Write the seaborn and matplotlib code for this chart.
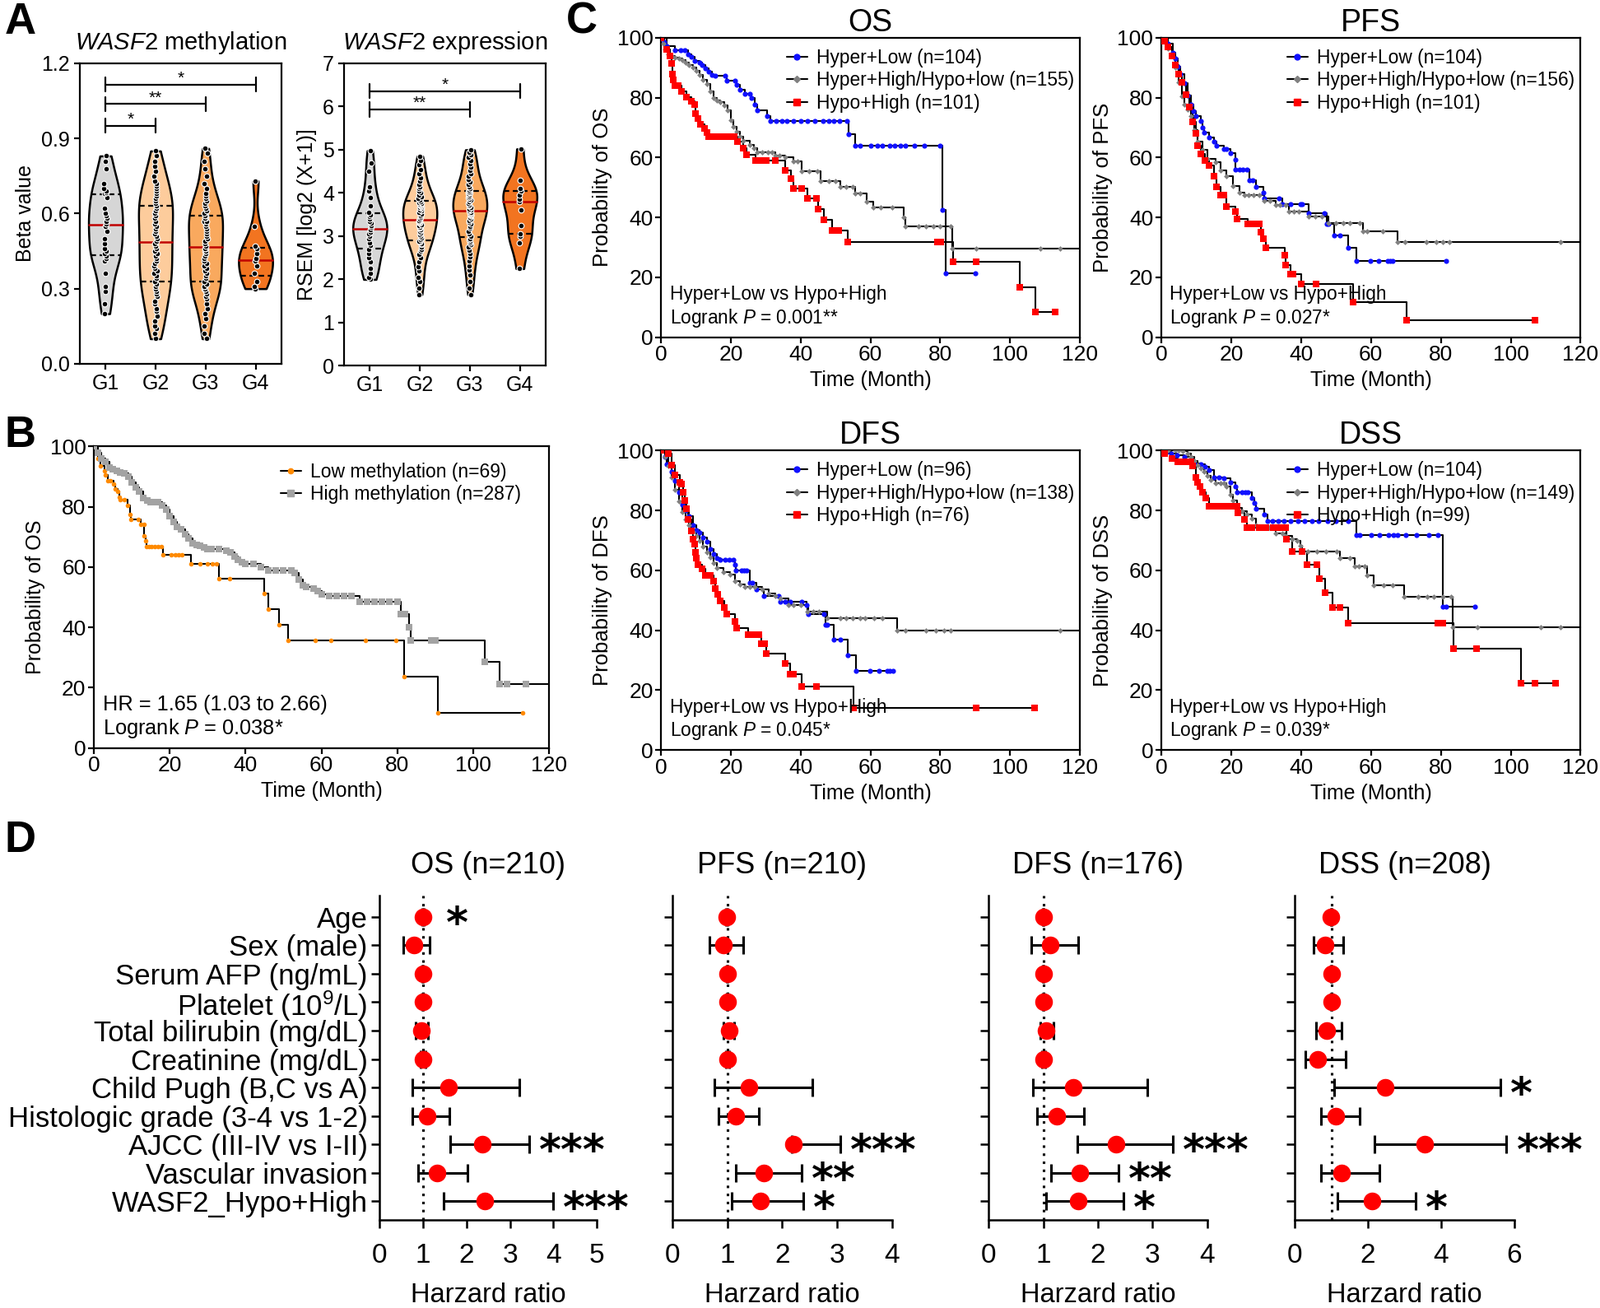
import numpy as np
import pandas as pd
import matplotlib
matplotlib.use("Agg")
import matplotlib.pyplot as plt
from matplotlib.lines import Line2D
import seaborn as sns

# =========================
# A. VIOLINOS (metilação / expressão)
# =========================
grupos = ["G1", "G2", "G3", "G4"]
cores_grupos = {"G1": "#d6d6d6", "G2": "#fdcc9c", "G3": "#f9a95e", "G4": "#f27420"}

met_g1 = [0.20, 0.24, 0.29, 0.31, 0.36, 0.41, 0.42, 0.43, 0.44, 0.45,
          0.46, 0.48, 0.50, 0.53, 0.55, 0.56, 0.57, 0.58, 0.59, 0.60,
          0.62, 0.665, 0.68, 0.685, 0.69, 0.70, 0.72, 0.78, 0.81, 0.83]
met_g2 = [0.10, 0.12, 0.14, 0.15, 0.17, 0.19, 0.21, 0.22, 0.24, 0.25, 0.27, 0.28, 0.29, 0.30, 0.31, 0.32,
          0.33, 0.34, 0.35, 0.36, 0.37, 0.38, 0.39, 0.40, 0.41, 0.42, 0.43, 0.44, 0.45, 0.46, 0.47, 0.48,
          0.49, 0.50, 0.51, 0.52, 0.53, 0.54, 0.55, 0.56, 0.57, 0.58, 0.59, 0.60, 0.61, 0.62, 0.63, 0.63,
          0.64, 0.65, 0.66, 0.67, 0.68, 0.69, 0.70, 0.71, 0.72, 0.73, 0.75, 0.77, 0.79, 0.81, 0.83, 0.85]
met_g3 = [0.10, 0.12, 0.15, 0.18, 0.20, 0.22, 0.24, 0.26, 0.27, 0.28, 0.29, 0.30, 0.30, 0.31, 0.31, 0.32,
          0.33, 0.34, 0.35, 0.36, 0.37, 0.38, 0.39, 0.40, 0.41, 0.42, 0.43, 0.44, 0.45, 0.45, 0.46, 0.46,
          0.47, 0.48, 0.49, 0.50, 0.51, 0.52, 0.53, 0.54, 0.55, 0.56, 0.57, 0.57, 0.58, 0.58, 0.59, 0.59,
          0.60, 0.61, 0.62, 0.63, 0.64, 0.65, 0.66, 0.67, 0.68, 0.70, 0.72, 0.75, 0.78, 0.81, 0.84, 0.86]
met_g4 = [0.30, 0.31, 0.33, 0.36, 0.39, 0.41, 0.42, 0.44, 0.46, 0.47, 0.55, 0.73]

exp_g1 = [2.00, 2.05, 2.15, 2.25, 2.40, 2.50, 2.60, 2.70, 2.78, 2.85,
          2.95, 3.00, 3.05, 3.10, 3.15, 3.20, 3.25, 3.30, 3.35, 3.40,
          3.45, 3.50, 3.55, 3.70, 3.90, 4.05, 4.15, 4.50, 4.70, 4.98]
exp_g2 = [1.65, 1.80, 1.95, 2.05, 2.20, 2.30, 2.40, 2.50, 2.58, 2.65, 2.70, 2.75, 2.80, 2.83, 2.86, 2.88,
          2.92, 2.96, 3.00, 3.04, 3.08, 3.12, 3.15, 3.18, 3.21, 3.24, 3.27, 3.30, 3.32, 3.34, 3.36, 3.37,
          3.40, 3.44, 3.48, 3.52, 3.55, 3.58, 3.61, 3.64, 3.66, 3.68, 3.70, 3.72, 3.74, 3.76, 3.78, 3.80,
          3.84, 3.88, 3.92, 3.96, 4.00, 4.05, 4.10, 4.15, 4.20, 4.28, 4.36, 4.45, 4.55, 4.65, 4.75, 4.85]
exp_g3 = [1.65, 1.80, 1.95, 2.10, 2.22, 2.32, 2.42, 2.52, 2.60, 2.68, 2.75, 2.80, 2.85, 2.89, 2.92, 2.95,
          3.00, 3.06, 3.12, 3.18, 3.23, 3.28, 3.32, 3.36, 3.40, 3.44, 3.47, 3.50, 3.52, 3.54, 3.56, 3.58,
          3.60, 3.63, 3.66, 3.70, 3.73, 3.76, 3.80, 3.83, 3.86, 3.89, 3.92, 3.95, 3.98, 4.00, 4.02, 4.03,
          4.06, 4.10, 4.15, 4.20, 4.26, 4.32, 4.38, 4.45, 4.52, 4.60, 4.68, 4.75, 4.82, 4.88, 4.95, 5.00]
exp_g4 = [2.25, 2.85, 3.00, 3.05, 3.25, 3.60, 3.80, 3.85, 3.95, 4.05, 4.10, 4.30, 5.02]

# comparações: (grupo a, grupo b, altura, rótulo)
sig_met = [("G1", "G2", 0.95, "*"), ("G1", "G3", 1.038, "**"), ("G1", "G4", 1.115, "*")]
sig_exp = [("G1", "G3", 5.93, "**"), ("G1", "G4", 6.36, "*")]

# =========================
# B. KM metilação (tempo, sobrevida)
# =========================
b_low = [(0, 100), (1.0, 96), (1.7, 93.5), (2.7, 92), (3.0, 90.7), (3.7, 88.8), (4.4, 88.8), (5.2, 87.5),
         (5.7, 86), (6.2, 85), (6.6, 83.3), (7.0, 82.4), (8.0, 82.4), (8.8, 80.6), (9.5, 77.5), (9.8, 75.8),
         (11.8, 75.8), (12.3, 74.2), (13.3, 74.2), (13.3, 70.5), (13.6, 68.7), (13.8, 66.7), (14.5, 66.7),
         (15.2, 66.7), (16.0, 66.7), (16.8, 66.7), (17.7, 66.7), (18.2, 64.1), (20.4, 64.1), (21.5, 64.1),
         (22.3, 64.1), (23.1, 64.1), (25.5, 61), (28.0, 61), (30.0, 61), (31.3, 61), (32.4, 61), (32.9, 56.2),
         (35.8, 56.2), (45.0, 51.3), (45.9, 46.2), (48.8, 41), (51.3, 35.7), (58.3, 35.7), (62.4, 35.7),
         (71.7, 35.7), (79.6, 35.7), (81.7, 23.6), (90.7, 11.7), (113.0, 11.7)]
b_high = [(0, 100), (1, 98), (2, 96), (3, 95), (4, 93), (5, 92.5), (6, 92), (7, 91.5), (8, 91), (9, 90),
          (10, 88), (11, 86.5), (12, 85), (13, 83), (14, 82), (15, 81.5), (16, 81.5), (17, 81.5), (18, 80.5),
          (19, 79), (20, 77), (21, 75), (22, 73.5), (23, 72.5), (24, 71), (25, 69.5), (26, 68), (27, 67.5),
          (28, 67), (29, 66.5), (30, 66), (31, 66), (33, 66), (35, 65.5), (36, 65), (37, 63.5), (38, 62.5),
          (39, 61.5), (40, 61), (42, 61), (44, 60), (46, 59), (48, 59), (50, 59), (52, 59), (53, 58), (54, 56),
          (55, 54), (56, 53.5), (58, 53), (59, 52), (60, 51), (62, 50.5), (64, 50.5), (66, 50.5), (68, 50.5),
          (70, 48.5), (72, 48.5), (74, 48.5), (76, 48.5), (78, 48.5), (80, 48.5), (81, 44.5), (82, 44.5),
          (83, 40), (83.5, 35.7), (89, 35.7), (90, 35.7), (103, 28.5), (107, 21.3), (109, 21.3), (114, 21.3),
          (121, 21.3)]

# =========================
# C. KM combinados (Hyper+Low / intermediário / Hypo+High)
# =========================
os_hl = [(0, 100), (0.9, 98.6), (1.6, 97.3), (3.9, 95.9), (5.6, 95.9), (6.7, 95.9), (7.6, 94.5), (8.6, 93.6),
         (9.5, 92.2), (10.9, 91.8), (11.8, 90.9), (12.7, 89.9), (13.7, 88.6), (14.6, 87.5), (15.5, 87.2),
         (18.3, 87.2), (18.8, 85.8), (21.1, 85.8), (21.6, 84.4), (22.5, 82.6), (23.9, 81.2), (25.3, 81.2),
         (25.8, 79.9), (26.7, 77.6), (27.6, 75.8), (30.4, 73.9), (31.3, 72.1), (33, 72.1), (34.5, 72.1),
         (36, 72.1), (38, 72.1), (40, 72.1), (42, 72.1), (44, 72.1), (46.5, 72.1), (48, 72.1), (49.5, 72.1),
         (51, 72.1), (53.2, 72.1), (53.6, 67.8), (55.5, 63.9), (57, 63.9), (60, 63.9), (62, 63.9), (63.5, 63.9),
         (65.5, 63.9), (67, 63.9), (68.5, 63.9), (70, 63.9), (72.5, 63.9), (75.5, 63.9), (80, 63.9),
         (80.6, 42.5), (81.6, 21.3), (90, 21.3)]
os_mid = [(0, 100), (0.5, 98), (1, 96), (2, 94.5), (3, 94), (4, 93.5), (5, 93), (6, 92.5), (7, 91.8), (8, 91),
          (9, 90), (10, 89), (11, 87.5), (12, 86), (13, 84.5), (14, 82), (15, 80), (16, 79), (17, 78.5),
          (18, 77.5), (19, 75.8), (20, 72.5), (20.6, 70.3), (21.5, 68.5), (22.5, 66.9), (23.5, 65.5),
          (25.3, 64.3), (26.5, 63), (27.6, 61.8), (29, 61.8), (30.5, 61.8), (31.8, 61.8), (32.7, 60.7),
          (34, 60.7), (35.5, 60), (37.9, 58.8), (39, 58.8), (40.2, 55.4), (42.5, 55.4), (44.8, 55.4),
          (45.8, 52.2), (48, 52.2), (50, 52.2), (51.4, 50.1), (53, 50.1), (55, 50.1), (55.5, 48), (57, 48),
          (58.8, 45.4), (60.7, 43.3), (63, 43.3), (66.2, 43.3), (69.5, 40.1), (70, 36.9), (73.7, 36.9),
          (76, 36.9), (78, 36.9), (80, 36.9), (83, 36.9), (83.4, 29.6), (90.4, 29.6), (108.7, 29.6),
          (114.4, 29.6), (121, 29.6)]
os_hh = [(0, 100), (1.5, 96), (2.5, 94), (3, 91.5), (3.2, 88), (3.4, 86), (4, 84), (4.8, 84), (5.8, 82),
         (7.2, 80.3), (8.6, 78.7), (9.5, 77.6), (9.7, 74.8), (10.4, 73), (11.3, 71.2), (12.3, 69.8),
         (13.2, 68.4), (13.7, 66.9), (15, 66.9), (16.5, 66.9), (18, 66.9), (19.5, 66.9), (21, 66.9),
         (21.8, 65.2), (23.4, 63), (24.4, 61), (27, 59), (28.5, 59), (30, 59), (32.7, 59), (35.5, 55.6),
         (37.2, 52.9), (37.9, 49.7), (40.2, 49.7), (41.9, 46.5), (44.4, 46.5), (45, 42.8), (46.7, 39.2),
         (49, 35.7), (50.9, 35.7), (53.4, 31.7), (79.3, 31.7), (80.2, 31.7), (83.6, 25.3), (90.4, 25.3),
         (102.8, 16.8), (107.2, 8.3), (112.9, 8.3)]

pfs_hl = [(0, 100), (0.9, 100), (2, 98), (3.3, 95), (4, 93), (4.7, 90.4), (5.5, 88), (6.6, 84.9), (7.5, 80.8),
          (8.4, 77.6), (9.1, 75.5), (9.8, 73.9), (11.2, 72.1), (11.8, 70), (12.2, 68.4), (13.6, 66.6),
          (15, 65.2), (15.9, 63.9), (17.8, 62.8), (18.5, 62.8), (19.7, 61.6), (21.1, 59.3), (21.3, 56.1),
          (22.5, 56.1), (23.4, 56.1), (24.4, 56.1), (25.3, 52.4), (26.2, 52.4), (27.2, 50.3), (29.1, 48.3),
          (29.5, 46.5), (33.7, 46.5), (34.7, 44.4), (37, 44.4), (39.8, 44.4), (40.3, 44.4), (42.2, 41.4),
          (46.6, 41.4), (47.3, 37.8), (47.8, 37.8), (49.4, 34), (51.1, 34), (53.4, 29.8), (55.9, 25.4),
          (59.8, 25.4), (62.3, 25.4), (64.7, 25.4), (65.4, 25.4), (66.1, 25.4), (81.5, 25.4)]
pfs_mid = [(0, 100), (1, 98.5), (2, 96.5), (3, 94), (4, 90), (5, 85), (6, 80.5), (6.6, 77.6), (7.5, 76),
           (8.4, 73.9), (9.4, 69.3), (10.3, 65.2), (11.7, 62.5), (13.1, 59.7), (15.5, 58.4), (16.9, 55.6),
           (18.7, 53.8), (20.6, 50.6), (22.5, 48.3), (23.9, 47.4), (25, 47.4), (26.5, 47.4), (28.1, 47.4),
           (29.5, 45.5), (31, 45.5), (32.8, 44.2), (34, 44.2), (35.6, 44.2), (36.6, 42.1), (38, 42.1),
           (39.4, 42.1), (42.2, 40.3), (44, 40.3), (45.9, 40.3), (47.8, 38.2), (50, 38.2), (52, 38.2),
           (54, 38.2), (56.7, 38.2), (57.6, 35.5), (59, 35.5), (63.3, 35.5), (67.5, 31.8), (69.8, 31.8),
           (75.9, 31.8), (78.7, 31.8), (80.5, 31.8), (82.5, 31.8), (114.3, 31.8), (121, 31.8)]
pfs_hh = [(0, 100), (1, 99), (2, 97), (3, 94), (4, 91), (5, 88), (6, 85), (7, 81), (8, 77), (9, 72), (9.8, 68),
          (10.3, 63.9), (11.2, 61.1), (12.5, 59), (13.6, 57.5), (15, 53.8), (15.9, 50.1), (16.9, 47.4),
          (17.8, 47.4), (18.7, 43.7), (21.1, 41.9), (21.6, 39.6), (24.8, 37.8), (26.5, 37.8), (28.1, 37.8),
          (28.6, 35), (29.1, 32.8), (30, 30), (35.4, 27.3), (35.6, 24), (37, 21.1), (37.8, 21.1), (40.1, 17.7),
          (44.2, 17.7), (54.8, 11.7), (70.1, 5.8), (107, 5.8)]

dfs_hl = [(0, 100), (1, 98), (1.6, 95.5), (3, 93), (4, 90), (5, 86), (6, 82), (7, 80), (8, 78), (9, 75),
          (10, 73.5), (11, 72.5), (12, 71), (13, 69.5), (14, 67), (15, 65.5), (16, 64), (17, 63.6),
          (18.3, 63.6), (19.5, 63.6), (20.7, 63.6), (21.1, 61.8), (21.4, 60), (23, 60), (23.7, 60), (24.4, 60),
          (25.3, 55.9), (26.2, 55.9), (27.2, 53.6), (29.5, 51.5), (33.7, 51.5), (34.1, 49.5), (35.5, 49.5),
          (37, 49.5), (40.2, 49.5), (41.6, 48.5), (42.2, 45.5), (46.7, 45.5), (47.2, 41.7), (47.6, 41.7),
          (49.5, 36.8), (51.3, 36.8), (53.5, 31.6), (55.8, 26.3), (59.9, 26.3), (62.5, 26.3), (64.8, 26.3),
          (65.6, 26.3), (66.4, 26.3)]
dfs_mid = [(0, 100), (1, 98), (2, 95), (3, 91), (4, 87), (5, 83), (6, 79.5), (7, 77), (8, 75), (9, 73),
           (10, 71.5), (11, 70), (12, 68), (13, 66), (14, 64.5), (15, 62.5), (16, 60.9), (17.9, 59.5),
           (19.7, 58.6), (21.1, 56.3), (22.5, 55.4), (23.9, 54.4), (25.3, 54.4), (26.7, 54.4), (29, 53.6),
           (30.9, 52.2), (32.7, 51.5), (34.1, 50.5), (36.5, 48.5), (38, 48.5), (40, 48.5), (42, 46.2),
           (43.5, 46.2), (45.3, 46.2), (47.6, 44), (51.3, 44), (53, 44), (55, 44), (57, 44), (58.5, 44),
           (61, 44), (63.4, 44), (67.6, 39.8), (69.9, 39.8), (76, 39.8), (78.8, 39.8), (81, 39.8), (83, 39.8),
           (114.4, 39.8), (121, 39.8)]
dfs_hh = [(0, 100), (2, 99), (3, 95.2), (3.9, 92), (5.3, 89.3), (5.8, 88.8), (6.2, 86), (6.7, 83.3),
          (7.2, 80.6), (7.6, 76.9), (8.6, 73.3), (9, 70.5), (9.5, 68.7), (9.7, 66), (10, 64.1), (10.4, 61.8),
          (11.8, 60.4), (12.7, 58.3), (14, 58.3), (15, 56.3), (15.5, 54), (16.2, 52), (16.9, 49.9), (18, 47.6),
          (18.8, 45.5), (21.1, 43), (21.6, 40.7), (24.8, 38.5), (26.7, 38.5), (28.1, 38.5), (28.6, 35.6),
          (29.7, 35.6), (30, 32.2), (35.5, 28.9), (36.9, 25.4), (37.9, 25.4), (40.2, 21.1), (44.4, 21.1),
          (55.1, 14.1), (90.2, 14.1), (107, 14.1)]

dss_hl = [(0, 100), (0.2, 99.8), (1.5, 99.5), (2.8, 98.9), (4.5, 98.5), (6.6, 98), (8.4, 97), (9.4, 95.7),
          (11.2, 95.5), (12.5, 94.5), (13.6, 93.4), (15, 91.1), (16.5, 91.1), (17.8, 90.7), (19.7, 89.3),
          (21.1, 87.9), (21.6, 86.1), (23, 86.1), (24, 86.1), (24.8, 86.1), (25.8, 84.2), (26.7, 82.6),
          (27.2, 80.6), (29.5, 78.6), (30.5, 76.5), (31.9, 76.5), (33.5, 76.5), (35, 76.5), (37, 76.5),
          (39, 76.5), (41, 76.5), (43, 76.5), (45, 76.5), (47.5, 76.5), (50, 76.5), (53.4, 76.5), (55.8, 71.9),
          (56.7, 71.9), (60, 71.9), (62.5, 71.9), (65, 71.9), (66.5, 71.9), (67.5, 71.9), (70, 71.9),
          (73, 71.9), (76.5, 71.9), (79.2, 71.9), (80.6, 47.9), (81.5, 47.9), (89.8, 47.9)]
dss_mid = [(0, 100), (2, 100), (4, 100), (5, 100), (6.1, 99.8), (7.5, 99), (8.4, 98), (9.4, 96.5),
           (10.3, 95.2), (11.2, 94), (12.2, 93), (13.1, 91.5), (14.1, 90.2), (15.5, 89), (17, 89), (17.8, 89),
           (18.7, 87.9), (19.7, 85.2), (20.6, 83.3), (21.6, 81), (23, 79.7), (24.4, 78.6), (25.8, 77.4),
           (27.2, 75.1), (29.5, 74.2), (30.9, 74.2), (32.8, 72.3), (34.7, 72.3), (35.6, 71.4), (37.5, 70.5),
           (38.9, 70), (39.8, 68.2), (40.3, 66.4), (42, 66.4), (44.5, 66.4), (47, 66.4), (50.1, 66.4),
           (51.1, 64.1), (53.9, 64.1), (55.3, 61.4), (56.5, 61.4), (58.1, 61.4), (58.9, 58.4), (60.7, 55.1),
           (63.7, 55.1), (66.1, 55.1), (69.5, 51.1), (73.6, 51.1), (76, 51.1), (78, 51.1), (80.5, 51.1),
           (82.9, 51.1), (83.4, 40.9), (90.4, 40.9), (108.7, 40.9), (114.3, 40.9), (121, 40.9)]
dss_hh = [(0, 100), (0.9, 98.9), (3, 97.5), (4.7, 96.3), (6, 96.3), (7.5, 96.3), (8.4, 96.3), (8.9, 94.8),
          (9.8, 91.1), (10.3, 89.3), (11.1, 87.9), (11.7, 86.1), (12.7, 84.2), (13.6, 81.5), (14.5, 81.5),
          (16, 81.5), (17.5, 81.5), (19, 81.5), (20.5, 81.5), (21.6, 81.5), (21.8, 79.2), (23.7, 76.9),
          (24.6, 74.4), (26, 74.4), (28, 74.4), (30, 74.4), (32, 74.4), (33.8, 74.4), (35.6, 74.4),
          (35.8, 70.5), (37.5, 66.4), (40.3, 66.4), (41.7, 62), (44.5, 62), (45.2, 57.2), (46.9, 52.5),
          (48.9, 47.6), (51.1, 47.6), (53.4, 42.3), (79.2, 42.3), (80.6, 42.3), (83.6, 33.9), (90.2, 33.9),
          (102.9, 22.4), (107, 22.4), (112.9, 22.4)]

n_os = [104, 155, 101]
n_pfs = [104, 156, 101]
n_dfs = [96, 138, 76]
n_dss = [104, 149, 99]
p_os, p_pfs, p_dfs, p_dss = "0.001**", "0.027*", "0.045*", "0.039*"

# =========================
# D. FOREST (HR, IC inferior, IC superior)
# =========================
fatores = ["Age", "Sex (male)", "Serum AFP (ng/mL)", r"Platelet (10$^9$/L)", "Total bilirubin (mg/dL)",
           "Creatinine (mg/dL)", "Child Pugh (B,C vs A)", "Histologic grade (3-4 vs 1-2)",
           "AJCC (III-IV vs I-II)", "Vascular invasion", "WASF2_Hypo+High"]

hr_os = [1.00, 0.80, 1.00, 1.00, 0.96, 1.00, 1.59, 1.10, 2.37, 1.33, 2.42]
lo_os = [0.99, 0.55, 0.99, 0.99, 0.83, 0.95, 0.76, 0.76, 1.63, 0.88, 1.47]
hi_os = [1.02, 1.15, 1.01, 1.01, 1.12, 1.05, 3.22, 1.60, 3.45, 2.02, 4.00]
st_os = ["*", "", "", "", "", "", "", "", "***", "", "***"]

hr_pfs = [0.99, 0.93, 1.00, 1.00, 1.03, 1.00, 1.39, 1.16, 2.20, 1.66, 1.61]
lo_pfs = [0.98, 0.67, 0.99, 0.99, 0.93, 0.97, 0.76, 0.84, 2.17, 1.16, 1.08]
hi_pfs = [1.01, 1.29, 1.01, 1.01, 1.13, 1.03, 2.55, 1.58, 3.06, 2.35, 2.38]
st_pfs = ["", "", "", "", "", "", "", "", "***", "**", "*"]

hr_dfs = [1.00, 1.13, 1.00, 1.00, 1.05, 1.00, 1.54, 1.25, 2.33, 1.66, 1.63]
lo_dfs = [0.99, 0.78, 0.99, 0.99, 0.94, 0.97, 0.81, 0.88, 1.62, 1.14, 1.05]
hi_dfs = [1.01, 1.63, 1.01, 1.01, 1.18, 1.03, 2.90, 1.75, 3.37, 2.38, 2.46]
st_dfs = ["", "", "", "", "", "", "", "", "***", "**", "*"]

hr_dss = [0.99, 0.82, 1.00, 1.00, 0.88, 0.62, 2.46, 1.13, 3.56, 1.27, 2.11]
lo_dss = [0.98, 0.51, 0.99, 0.99, 0.59, 0.28, 1.08, 0.71, 2.18, 0.71, 1.16]
hi_dss = [1.01, 1.32, 1.01, 1.01, 1.27, 1.38, 5.63, 1.78, 5.79, 2.32, 3.30]
st_dss = ["", "", "", "", "", "", "*", "", "***", "", "*"]

# =========================
# ESTILO
# =========================
sns.set_theme(style="ticks")
plt.rcParams["font.family"] = ["Liberation Sans", "DejaVu Sans"]
plt.rcParams["mathtext.fontset"] = "custom"
plt.rcParams["mathtext.rm"] = "Liberation Sans"
plt.rcParams["mathtext.it"] = "Liberation Sans:italic"
plt.rcParams["mathtext.bf"] = "Liberation Sans:bold"
plt.rcParams["axes.linewidth"] = 1.6
plt.rcParams["axes.edgecolor"] = "black"
plt.rcParams["xtick.color"] = "black"
plt.rcParams["ytick.color"] = "black"
plt.rcParams["xtick.major.width"] = 1.6
plt.rcParams["ytick.major.width"] = 1.6
plt.rcParams["xtick.major.size"] = 5
plt.rcParams["ytick.major.size"] = 5
plt.rcParams["text.color"] = "black"
plt.rcParams["axes.labelcolor"] = "black"

AZUL, CINZA, VERMELHO = "#1010ff", "#808080", "#ff0000"


def violino(ax, valores, titulo, ylabel, ylim, yticks, fmt, sig, tick_h):
    df = pd.DataFrame({
        "grupo": np.repeat(grupos, [len(v) for v in valores]),
        "valor": np.concatenate(valores),
    })
    sns.violinplot(data=df, x="grupo", y="valor", hue="grupo", order=grupos, hue_order=grupos,
                   palette=cores_grupos, legend=False, cut=0, density_norm="width", width=0.68,
                   bw_adjust=0.8, inner=None, linewidth=1.8, linecolor="black", saturation=1, ax=ax)

    # linhas de quartis e mediana dentro de cada violino
    for poly in list(ax.collections):
        v = poly.get_paths()[0].vertices
        pos = int(round(np.median(v[:, 0])))
        vals = valores[pos]
        dire = v[v[:, 0] > pos + 1e-6]
        ordem = np.argsort(dire[:, 1])
        ys, xs = dire[ordem, 1], dire[ordem, 0]
        q1, med, q3 = np.percentile(vals, [25, 50, 75])
        for q in (q1, q3):
            w = np.interp(q, ys, xs) - pos
            ax.plot([pos - w, pos + w], [q, q], color="black", lw=1.6, ls=(0, (3, 2)), zorder=2)
        w = np.interp(med, ys, xs) - pos
        ax.plot([pos - w, pos + w], [med, med], color="#c00000", lw=1.8, zorder=2)

    sns.stripplot(data=df, x="grupo", y="valor", order=grupos, color="black", size=4.8, jitter=0.03,
                  edgecolor="white", linewidth=0.8, ax=ax, zorder=3)

    for a, b, h, rot in sig:
        xa, xb = grupos.index(a), grupos.index(b)
        ax.plot([xa, xb], [h, h], color="black", lw=1.6)
        ax.plot([xa, xa], [h - tick_h, h + tick_h], color="black", lw=1.6)
        ax.plot([xb, xb], [h - tick_h, h + tick_h], color="black", lw=1.6)
        ax.text((xa + xb) / 2, h + tick_h * 0.2, rot, ha="center", va="baseline", fontsize=15)

    ax.set_xlim(-0.52, 3.52)
    ax.set_ylim(*ylim)
    ax.set_yticks(yticks)
    ax.set_yticklabels([fmt.format(t) for t in yticks])
    ax.set_xlabel("")
    ax.set_ylabel(ylabel, fontsize=18, labelpad=5)
    ax.set_title(titulo, fontsize=21, pad=12)
    ax.tick_params(labelsize=18)


def painel_km(ax, curvas, cores, marcadores, tamanhos, rotulos, ylabel, textos, leg_anchor,
              fs_leg, fs_txt, fs_tick, fs_lab, fs_ylab):
    handles = []
    for pontos, cor, marc, tam, rot in zip(curvas, cores, marcadores, tamanhos, rotulos):
        t = [p[0] for p in pontos]
        s = [p[1] for p in pontos]
        sns.lineplot(x=t, y=s, ax=ax, color="black", linewidth=1.5, drawstyle="steps-post",
                     estimator=None, sort=False, legend=False, zorder=2)
        sns.scatterplot(x=t, y=s, ax=ax, color=cor, marker=marc, s=tam, linewidth=0,
                        legend=False, zorder=3)
        handles.append(Line2D([0], [0], color="black", lw=1.5, marker=marc, markersize=np.sqrt(tam) + 0.5,
                              markerfacecolor=cor, markeredgecolor=cor, label=rot))
    ax.set_xlim(0, 120)
    ax.set_ylim(0, 100)
    ax.set_xticks(range(0, 121, 20))
    ax.set_yticks(range(0, 101, 20))
    ax.tick_params(labelsize=fs_tick, pad=2)
    ax.set_xlabel("Time (Month)", fontsize=fs_lab, labelpad=5)
    ax.set_ylabel(ylabel, fontsize=fs_ylab, labelpad=4)
    ax.legend(handles=handles, loc="upper left", bbox_to_anchor=leg_anchor, frameon=False,
              fontsize=fs_leg, handlelength=1.1, handletextpad=0.5, labelspacing=0.2,
              borderpad=0, borderaxespad=0)
    ax.text(0.02, 0.143, textos[0], transform=ax.transAxes, fontsize=fs_txt, va="center", ha="left")
    ax.text(0.02, 0.065, textos[1], transform=ax.transAxes, fontsize=fs_txt, va="center", ha="left")


def painel_forest(ax, titulo, hr, lo, hi, estrelas, xmax, xticks, com_rotulos):
    y = np.arange(len(fatores))
    hr, lo, hi = np.array(hr), np.array(lo), np.array(hi)
    ax.axvline(1, color="black", linestyle=(0, (1, 2.2)), linewidth=2.2, zorder=1)
    ax.errorbar(hr, y, xerr=[hr - lo, hi - hr], fmt="none", ecolor="black", elinewidth=2.2,
                capsize=8, capthick=2.2, zorder=2)
    sns.scatterplot(x=hr, y=y, ax=ax, color=VERMELHO, s=240, linewidth=0, legend=False, zorder=3)
    for yi, h, r, est in zip(y, hi, hr, estrelas):
        if est:
            ax.text(max(h, r + 0.3) + 0.045 * xmax, yi + 0.70, est, fontsize=37, fontweight="bold",
                    family="DejaVu Sans", ha="left", va="baseline")
    ax.set_xlim(0, xmax)
    ax.set_ylim(len(fatores) - 1 + 0.66, -0.76)
    ax.set_xticks(xticks)
    ax.set_yticks(y)
    ax.set_yticklabels(fatores if com_rotulos else [])
    ax.tick_params(axis="y", labelsize=25, length=7, width=1.8)
    ax.tick_params(axis="x", labelsize=24, length=7, width=1.8, pad=13)
    ax.set_title(titulo, fontsize=26, pad=19)
    ax.set_xlabel("Harzard ratio", fontsize=23.5, labelpad=12)
    sns.despine(ax=ax)
    for sp in ("left", "bottom"):
        ax.spines[sp].set_linewidth(1.8)


fig = plt.figure(figsize=(19.44, 15.89), dpi=100)

# ---- A ----
ax_a1 = fig.add_axes([0.0497, 0.7219, 0.1263, 0.2297])
violino(ax_a1, [met_g1, met_g2, met_g3, met_g4], r"$\mathit{WASF}$2 methylation", "Beta value",
        (0, 1.2), [0, 0.3, 0.6, 0.9, 1.2], "{:.1f}", sig_met, 0.028)
ax_a2 = fig.add_axes([0.2149, 0.7203, 0.1263, 0.2313])
violino(ax_a2, [exp_g1, exp_g2, exp_g3, exp_g4], r"$\mathit{WASF}$2 expression", "RSEM [log2 (X+1)]",
        (0, 7), [0, 1, 2, 3, 4, 5, 6, 7], "{:.0f}", sig_exp, 0.17)

# ---- B ----
ax_b = fig.add_axes([0.0587, 0.4281, 0.2844, 0.2305])
painel_km(ax_b, [b_low, b_high], ["#ff8a00", "#a3a3a3"], ["o", "s"], [16, 26],
          ["Low methylation (n=69)", "High methylation (n=287)"], "Probability of OS",
          ["HR = 1.65 (1.03 to 2.66)", r"Logrank $\mathit{P}$ = 0.038*"], (0.41, 0.948),
          16.5, 18.3, 19, 18, 18)

# ---- C ----
cores_c = [AZUL, CINZA, VERMELHO]
marc_c = ["o", "D", "s"]
tam_c = [20, 12, 26]
paineis_c = [
    ([0.4133, 0.7422, 0.2615, 0.2289], "OS", [os_hl, os_mid, os_hh], n_os, p_os),
    ([0.7258, 0.7422, 0.2621, 0.2289], "PFS", [pfs_hl, pfs_mid, pfs_hh], n_pfs, p_pfs),
    ([0.4133, 0.4266, 0.2615, 0.2289], "DFS", [dfs_hl, dfs_mid, dfs_hh], n_dfs, p_dfs),
    ([0.7258, 0.4266, 0.2621, 0.2289], "DSS", [dss_hl, dss_mid, dss_hh], n_dss, p_dss),
]
for rect, nome, curvas, ns, p in paineis_c:
    ax = fig.add_axes(rect)
    rotulos = [f"Hyper+Low (n={ns[0]})", f"Hyper+High/Hypo+low (n={ns[1]})", f"Hypo+High (n={ns[2]})"]
    painel_km(ax, curvas, cores_c, marc_c, tam_c, rotulos, f"Probability of {nome}",
              ["Hyper+Low vs Hypo+High", r"Logrank $\mathit{P}$ = " + p], (0.30, 0.965),
              16.4, 16.3, 19, 18, 18.5)
    ax.set_title(nome, fontsize=27, pad=3)

# ---- D ----
paineis_d = [
    ([0.2372, 0.0672, 0.1358, 0.2484], "OS (n=210)", hr_os, lo_os, hi_os, st_os, 5, [0, 1, 2, 3, 4, 5], True),
    ([0.4203, 0.0672, 0.1371, 0.2484], "PFS (n=210)", hr_pfs, lo_pfs, hi_pfs, st_pfs, 4, [0, 1, 2, 3, 4], False),
    ([0.6180, 0.0672, 0.1365, 0.2484], "DFS (n=176)", hr_dfs, lo_dfs, hi_dfs, st_dfs, 4, [0, 1, 2, 3, 4], False),
    ([0.8093, 0.0672, 0.1371, 0.2484], "DSS (n=208)", hr_dss, lo_dss, hi_dss, st_dss, 6, [0, 2, 4, 6], False),
]
for rect, titulo, hr, lo, hi, st, xmax, xt, rot in paineis_d:
    ax = fig.add_axes(rect)
    painel_forest(ax, titulo, hr, lo, hi, st, xmax, xt, rot)

# ---- letras dos painéis ----
for letra, x, y in [("A", 0.003, 0.999), ("B", 0.003, 0.683), ("C", 0.354, 0.999), ("D", 0.003, 0.373)]:
    fig.text(x, y, letra, fontsize=38, fontweight="bold", ha="left", va="top")

fig.savefig("out.png", dpi=100)
